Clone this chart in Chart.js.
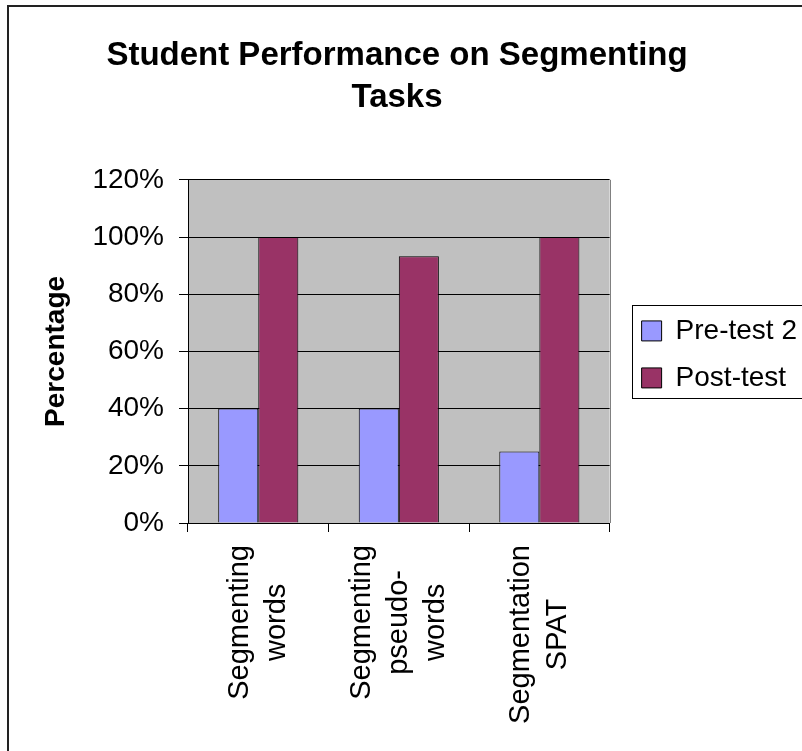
<!DOCTYPE html>
<html>
<head>
<meta charset="utf-8">
<script src="https://cdn.jsdelivr.net/npm/chart.js@4.4.1/dist/chart.umd.min.js"></script>
<style>
  html, body { margin: 0; padding: 0; background: #ffffff; }
  #c { display: block; }
</style>
</head>
<body>
<canvas id="c" width="802" height="751"></canvas>
<script>
// Task categories (each entry is the list of lines of its axis label)
const categories = [
  ['Segmenting', 'words'],
  ['Segmenting', 'pseudo-', 'words'],
  ['Segmentation', 'SPAT']
];
// Share of students succeeding, per test
const preTest2 = [0.40, 0.40, 0.25];
const postTest = [1.00, 0.933, 1.00];
// Value axis
const yMin = 0;
const yMax = 1.2;
const yStep = 0.2;

const FONT = '"Liberation Sans", Arial, Helvetica, sans-serif';

// Grey plot background, outer frame, plot border, legend frame and category labels
const decorations = {
  id: 'decorations',
  afterLayout(chart) {
    // legend sits a little right of the plot, centred on it
    const lg = chart.legend;
    const a = chart.chartArea;
    const w = lg.right - lg.left;
    lg.left = a.right + 13;
    lg.right = lg.left + w;
    lg.top = a.top + 3;
    lg.bottom = a.bottom + 3;
  },
  beforeDraw(chart) {
    const { ctx, chartArea: a } = chart;
    ctx.save();
    ctx.fillStyle = '#ffffff';
    ctx.fillRect(0, 0, chart.width, chart.height);
    ctx.fillStyle = '#c0c0c0';
    ctx.fillRect(a.left, a.top, a.right - a.left, a.bottom - a.top);
    ctx.restore();
  },
  afterDraw(chart) {
    const { ctx, chartArea: a } = chart;
    ctx.save();
    // outer chart frame
    ctx.strokeStyle = '#222222';
    ctx.lineWidth = 2;
    ctx.strokeRect(8, 6, 900, 900);
    // plot-area right edge
    ctx.strokeStyle = '#808080';
    ctx.lineWidth = 1;
    ctx.beginPath();
    ctx.moveTo(Math.round(a.right) + 0.5, a.top);
    ctx.lineTo(Math.round(a.right) + 0.5, a.bottom);
    ctx.stroke();
    // legend frame
    const mid = (a.top + a.bottom) / 2;
    ctx.strokeStyle = '#000000';
    ctx.strokeRect(Math.round(a.right + 22) + 0.5, Math.round(mid - 46.5) + 0.5, 200, 93);
    // category labels, rotated, lines centred on each other
    const xs = chart.scales.x;
    ctx.fillStyle = '#000000';
    ctx.font = '29px ' + FONT;
    ctx.textAlign = 'center';
    ctx.textBaseline = 'middle';
    const lineH = 37;
    categories.forEach((lines, i) => {
      const cx = xs.getPixelForValue(i);
      const maxW = Math.max(...lines.map(t => ctx.measureText(t).width));
      const cy = xs.top + 22 + maxW / 2;
      ctx.save();
      ctx.translate(cx, cy);
      ctx.rotate(-Math.PI / 2);
      lines.forEach((t, j) => {
        ctx.fillText(t, 0, (j - (lines.length - 1) / 2) * lineH);
      });
      ctx.restore();
    });
    ctx.restore();
  }
};

new Chart(document.getElementById('c'), {
  type: 'bar',
  data: {
    labels: categories,
    datasets: [
      {
        label: 'Pre-test 2',
        data: preTest2,
        backgroundColor: '#9999ff',
        borderColor: '#000000',
        borderWidth: 1
      },
      {
        label: 'Post-test',
        data: postTest,
        backgroundColor: '#993366',
        borderColor: '#000000',
        borderWidth: 1
      }
    ]
  },
  options: {
    responsive: false,
    animation: false,
    devicePixelRatio: 1,
    events: [],
    categoryPercentage: 0.57,
    barPercentage: 1.0,
    layout: { padding: { left: 0, right: 8, top: 0, bottom: 0 } },
    plugins: {
      title: {
        display: true,
        text: ['Student Performance on Segmenting', 'Tasks'],
        color: '#000000',
        font: { family: FONT, size: 33, weight: 'bold', lineHeight: 1.27 },
        padding: { top: 35, bottom: 61 }
      },
      legend: {
        position: 'right',
        maxWidth: 192,
        labels: {
          color: '#000000',
          font: { family: FONT, size: 28 },
          boxWidth: 20,
          boxHeight: 20,
          padding: 19
        }
      },
      tooltip: { enabled: false }
    },
    scales: {
      x: {
        offset: true,
        grid: {
          display: true,
          offset: true,
          drawOnChartArea: false,
          drawTicks: true,
          tickLength: 9,
          color: '#000000'
        },
        border: { display: true, color: '#000000', width: 1 },
        ticks: { display: false },
        afterFit(scale) { scale.height = 228; }
      },
      y: {
        min: yMin,
        max: yMax,
        grid: {
          color: '#000000',
          lineWidth: 1,
          drawTicks: true,
          tickLength: 9
        },
        border: { display: true, color: '#000000', width: 1 },
        ticks: {
          stepSize: yStep,
          color: '#000000',
          padding: 15,
          font: { family: FONT, size: 28 },
          callback: v => Math.round(v * 100) + '%'
        },
        title: {
          display: true,
          text: 'Percentage',
          color: '#000000',
          font: { family: FONT, size: 28, weight: 'bold' },
          padding: { top: 39, bottom: 4 }
        },
        afterFit(scale) { scale.width = 188; }
      }
    }
  },
  plugins: [decorations]
});
</script>
</body>
</html>
